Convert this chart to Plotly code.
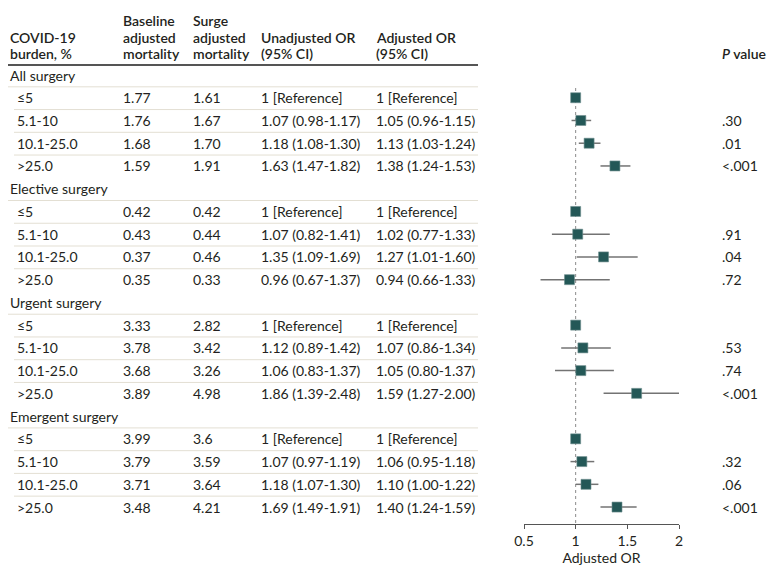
import plotly.graph_objects as go

# Table data
groups = ["All surgery", "Elective surgery", "Urgent surgery", "Emergent surgery"]
burden = ["≤5", "5.1-10", "10.1-25.0", ">25.0"]

baseline = [["1.77", "1.76", "1.68", "1.59"],
            ["0.42", "0.43", "0.37", "0.35"],
            ["3.33", "3.78", "3.68", "3.89"],
            ["3.99", "3.79", "3.71", "3.48"]]
surge = [["1.61", "1.67", "1.70", "1.91"],
         ["0.42", "0.44", "0.46", "0.33"],
         ["2.82", "3.42", "3.26", "4.98"],
         ["3.6", "3.59", "3.64", "4.21"]]

# Unadjusted OR (reference row = 1)
unadj_or = [[1, 1.07, 1.18, 1.63], [1, 1.07, 1.35, 0.96], [1, 1.12, 1.06, 1.86], [1, 1.07, 1.18, 1.69]]
unadj_lo = [[1, 0.98, 1.08, 1.47], [1, 0.82, 1.09, 0.67], [1, 0.89, 0.83, 1.39], [1, 0.97, 1.07, 1.49]]
unadj_hi = [[1, 1.17, 1.30, 1.82], [1, 1.41, 1.69, 1.37], [1, 1.42, 1.37, 2.48], [1, 1.19, 1.30, 1.91]]

# Adjusted OR (plotted)
adj_or = [[1, 1.05, 1.13, 1.38], [1, 1.02, 1.27, 0.94], [1, 1.07, 1.05, 1.59], [1, 1.06, 1.10, 1.40]]
adj_lo = [[1, 0.96, 1.03, 1.24], [1, 0.77, 1.01, 0.66], [1, 0.86, 0.80, 1.27], [1, 0.95, 1.00, 1.24]]
adj_hi = [[1, 1.15, 1.24, 1.53], [1, 1.33, 1.60, 1.33], [1, 1.34, 1.37, 2.00], [1, 1.18, 1.22, 1.59]]

p_values = [["", ".30", ".01", "<.001"],
            ["", ".91", ".04", ".72"],
            ["", ".53", ".74", "<.001"],
            ["", ".32", ".06", "<.001"]]

x_ticks = [0.5, 1, 1.5, 2]

# Layout helpers: positions are given in page pixels; the page has an 8px body margin
OFF = 8
W, H = 780 - OFF, 580 - OFF
ROW0, STEP = 75, 22.74      # page y of first row and row pitch
AXIS_PX = 524               # page y of the x axis line
FONT = "Lato"
TXT = "#231f20"
MARK = "#245857"
CI = "#737373"
SEP = "#e3dfd3"


def k_of(py):
    return (py - ROW0) / STEP


def px(x):
    return (max(x, OFF) - OFF) / W


fig = go.Figure()
ann = []
shapes = []

def cell(x, k, text, bold=False, size=14):
    # x is where the glyphs start; the annotation box adds ~2px padding
    ann.append(dict(x=px(x - 2), xref="paper", y=k, yref="y", text=text,
                    showarrow=False, xanchor="left", yanchor="middle",
                    font=dict(family=FONT, size=size, color=TXT, weight=600 if bold else 400)))

# header
cols_x = [5, 123, 193, 261, 376]
header = [["", "COVID-19", "burden, %"],
          ["Baseline", "adjusted", "mortality"],
          ["Surge", "adjusted", "mortality"],
          ["", "Unadjusted OR", "(95% CI)"],
          ["", "Adjusted OR", "(95% CI)"]]
for x, lines in zip(cols_x, header):
    for line, py in zip(lines, [20, 37, 53]):
        if line:
            cell(x, k_of(py), line, bold=True)
cell(722, k_of(53), "<i>P</i> value", bold=True)

shapes.append(dict(type="line", xref="paper", yref="y", x0=px(OFF), x1=px(478),
                   y0=k_of(65), y1=k_of(65), line=dict(color="#555555", width=2)))

ys, xs = [], []
for g, name in enumerate(groups):
    kg = 5 * g
    cell(4, kg, name)
    shapes.append(dict(type="line", xref="paper", yref="y", x0=px(OFF), x1=px(478),
                       y0=kg + 0.52, y1=kg + 0.52, line=dict(color=SEP, width=1)))
    for i, b in enumerate(burden):
        k = kg + 1 + i
        cell(17, k, b)
        cell(cols_x[1], k, baseline[g][i])
        cell(cols_x[2], k, surge[g][i])
        if i == 0:
            cell(cols_x[3], k, "1 [Reference]")
            cell(cols_x[4], k, "1 [Reference]")
        else:
            cell(cols_x[3], k, "%.2f (%.2f-%.2f)" % (unadj_or[g][i], unadj_lo[g][i], unadj_hi[g][i]))
            cell(cols_x[4], k, "%.2f (%.2f-%.2f)" % (adj_or[g][i], adj_lo[g][i], adj_hi[g][i]))
            cell(722, k, p_values[g][i])
        if i < 3:
            shapes.append(dict(type="line", xref="paper", yref="y", x0=px(14), x1=px(478),
                               y0=k + 0.52, y1=k + 0.52, line=dict(color=SEP, width=1)))
        # CI line
        if i > 0:
            fig.add_trace(go.Scatter(x=[adj_lo[g][i], adj_hi[g][i]], y=[k, k], mode="lines",
                                     line=dict(color=CI, width=1.5), cliponaxis=False,
                                     showlegend=False, hoverinfo="skip"))
        xs.append(adj_or[g][i])
        ys.append(k)

# reference line at OR = 1
shapes.append(dict(type="line", xref="x", yref="y", x0=1, x1=1, y0=k_of(88), y1=k_of(AXIS_PX),
                   line=dict(color="#8a8a8a", width=1, dash="dot"), layer="below"))

fig.add_trace(go.Scatter(x=xs, y=ys, mode="markers", cliponaxis=False, showlegend=False,
                         marker=dict(symbol="square", size=10, color=MARK,
                                     line=dict(color="#6f8f8e", width=0.6))))

fig.update_layout(
    width=W, height=H,
    margin=dict(l=0, r=0, t=0, b=580 - AXIS_PX, pad=0, autoexpand=False),
    paper_bgcolor="white", plot_bgcolor="white",
    annotations=ann, shapes=shapes,
    font=dict(family=FONT, size=14, color=TXT),
    xaxis=dict(domain=[px(524), px(679)], range=[0.5, 2], tickvals=x_ticks, automargin=False,
               ticktext=["0.5", "1", "1.5", "2"], showgrid=False, zeroline=False,
               showline=True, linecolor="#555555", linewidth=1.2, ticks="outside",
               ticklen=4, tickcolor="#555555", tickfont=dict(family=FONT, size=14, color=TXT),
               title=dict(text="Adjusted OR", font=dict(family=FONT, size=14, color=TXT), standoff=3)),
    yaxis=dict(range=[k_of(AXIS_PX), k_of(OFF)], visible=False, automargin=False),
)

fig.write_html("out.html")
